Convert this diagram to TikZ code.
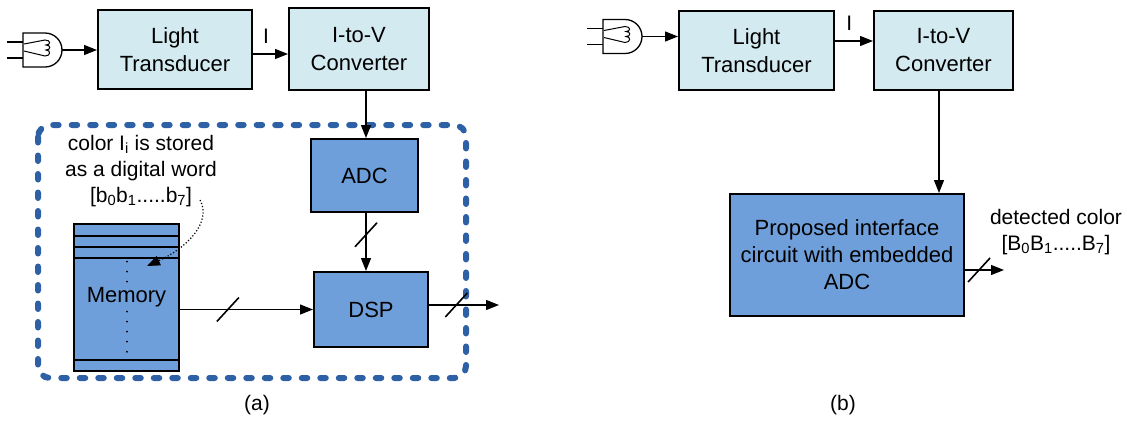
\documentclass[tikz,border=0pt]{standalone}
\usepackage{fontspec}
\setmainfont{Liberation Sans}
\usetikzlibrary{arrows.meta,calc,positioning}

\definecolor{lightbox}{RGB}{210,234,240}
\definecolor{darkbox}{RGB}{111,159,218}
\definecolor{dashblue}{RGB}{46,96,166}

\tikzset{
  lightblock/.style={draw=black, line width=2pt, fill=lightbox, align=center, inner sep=0pt,
    font=\fontsize{22}{28}\selectfont},
  darkblock/.style={draw=black, line width=2pt, fill=darkbox, align=center, inner sep=0pt,
    font=\fontsize{22}{27}\selectfont},
  sig/.style={line width=1.3pt, -{Triangle[length=13pt,width=10pt]}},
  note/.style={align=center, inner sep=0pt, font=\fontsize{21}{26}\selectfont},
  lbl/.style={inner sep=0pt, anchor=south, yshift=10pt, font=\fontsize{21}{25}\selectfont},
  busmark/.pic={\draw[line width=1.6pt] (-11,12) -- (11,-12);},
  lamp/.pic={
    \draw[line width=1.3pt] (-16,-8) -- (0,-8) (-16,8) -- (0,8);
    \draw[line width=1.3pt] (0,-17) -- (22,-17) .. controls (31.4,-17) and (39,-9.4) .. (39,0)
      .. controls (39,9.4) and (31.4,17) .. (22,17) -- (0,17) -- cycle;
    \draw[line width=1pt] (1,-6) -- (22,-10) .. controls (28,-10) and (28,-5) .. (23,-5)
      .. controls (28,-5) and (28,0) .. (23,0) .. controls (28,0) and (28,6) .. (22,6) -- (1,1);
    \coordinate (-out) at (39,0);
  }
}

\begin{document}
\begin{tikzpicture}[x=1pt, y=-1pt]
\useasboundingbox (0,0) rectangle (1127,421);
% (a) colour stored in memory
\pic (lampa) at (23,50) {lamp};
\node[lightblock, minimum width=154pt, minimum height=79pt] (lta) at (175,49.5) {Light\\Transducer};
\node[lightblock, minimum width=140pt, minimum height=82pt] (iva) at (359,49) {I-to-V\\Converter};
\draw[dashblue, line width=6pt, line cap=round, dash pattern=on 5.5pt off 13pt,
  rounded corners=12pt] (38,125) rectangle (466,378);
\node[darkblock, minimum width=107pt, minimum height=73pt] (adc) at (364.5,175.5) {ADC};
\node[darkblock, minimum width=114pt, minimum height=75pt] (dsp) at (371,309.5) {DSP};
\node[darkblock, minimum width=105pt, minimum height=147pt] (mem) at (126.5,297.5) {Memory};
\foreach \y in {236,247,258,360}
  \draw[line width=2pt] (mem.west |- 0,\y) -- (mem.east |- 0,\y);
\draw[line width=2pt, line cap=round, dash pattern=on 0.01pt off 10pt]
  (127,261.7) -- (127,282) (127,311.7) -- (127,352);
\node[note] (word) at (141,171) {color I\textsubscript{i} is stored\\as a digital word\\{[}b\textsubscript{0}b\textsubscript{1}.....b\textsubscript{7}{]}};
\coordinate (slot) at (147,266);
\draw[line width=1.2pt, dash pattern=on 1.2pt off 2pt, -{Triangle[length=13pt,width=10pt]}]
  ([xshift=-17pt,yshift=-29pt]word.east) .. controls +(12,22) and +(40,-18) .. (slot);

\draw[sig] (lampa-out) -- (lampa-out -| lta.west);
\draw[sig] ([yshift=-4.5pt]lta.east) -- ([yshift=-4.5pt]lta.east -| iva.west) node[lbl, pos=0.37] {I};
\coordinate (cola) at (366,0);
\draw[sig] (iva.south -| cola) -- (adc.north -| cola);
\draw[sig] (adc.south -| cola) -- coordinate[pos=0.375] (bus1) (dsp.north -| cola);
\draw[sig] (mem.east |- dsp.west) -- coordinate[pos=0.36] (bus2) (dsp.west);
\coordinate (outa) at (499,305);
\draw[sig] (dsp.east |- outa) -- coordinate[pos=0.39] (bus3) (outa);
\foreach \b in {bus1,bus2,bus3} \pic at (\b) {busmark};
\node[note] (capa) at (257,405) {(a)};

% (b) proposed interface
\pic (lampb) at (603,36.5) {lamp};
\node[lightblock, minimum width=155pt, minimum height=79pt] (ltb) at (756.5,50.5) {Light\\Transducer};
\node[lightblock, minimum width=139pt, minimum height=79pt] (ivb) at (943.5,50.5) {I-to-V\\Converter};
\node[darkblock, minimum width=234pt, minimum height=122pt] (prop) at (847,255) {Proposed interface\\circuit with embedded\\ADC};
\draw[sig] (lampb-out) -- (lampb-out -| ltb.west);
\draw[sig] ([yshift=9.5pt]ltb.east) -- ([yshift=9.5pt]ltb.east -| ivb.west) node[lbl, pos=0.375] {I};
\coordinate (colb) at (939,0);
\draw[sig] (ivb.south -| colb) -- (prop.north -| colb);
\coordinate (outb) at (1004,270);
\draw[sig] (prop.east |- outb) -- coordinate[pos=0.36] (bus4) (outb);
\pic at (bus4) {busmark};
\node[note] (det) at (1056,232) {detected color\\{[}B\textsubscript{0}B\textsubscript{1}.....B\textsubscript{7}{]}};
\node[note] (capb) at (843,405) {(b)};
\end{tikzpicture}
\end{document}
